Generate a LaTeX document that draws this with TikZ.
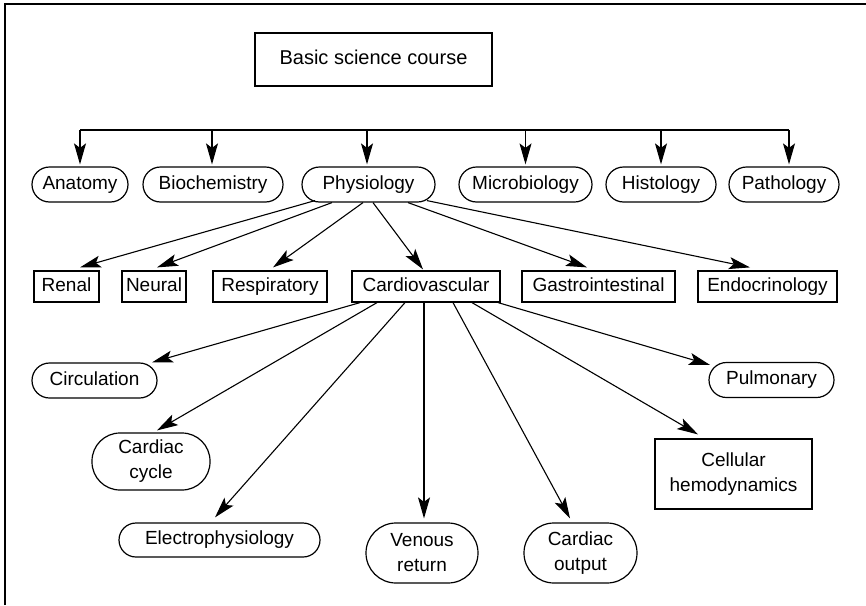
\documentclass[tikz,border=0pt]{standalone}
\usepackage{fontspec}
\setmainfont{Liberation Sans}
\usetikzlibrary{arrows.meta}
\begin{document}
\begin{tikzpicture}[x=1pt,y=-1pt,
  every node/.style={font=\fontsize{19}{25}\selectfont, inner sep=0pt, align=center, line width=1.2pt},
  one/.style={text height=13.5pt, text depth=4pt},
  pill/.style={draw, one, rounded corners=17.5pt, minimum height=35pt},
  tallpill/.style={draw, rounded corners=29pt, minimum height=58pt},
  boxn/.style={draw, one, minimum height=31pt},
  arr/.style={-{Stealth[length=21pt,width=12pt,inset=4.5pt]}, line width=1.1pt},
  plain/.style={line width=1.1pt},
]
\useasboundingbox (0,0) rectangle (866,605);
\draw[line width=1.2pt] (5,605) -- (5,4) -- (866,4);

% title
\node[draw, one, minimum width=237pt, minimum height=53pt, font=\fontsize{20}{25}\selectfont] (title) at (373.5,59.5) {Basic science course};

% row 1
\node[pill, minimum width=96pt]  (anat)  at (80,184.5)    {Anatomy};
\node[pill, minimum width=140pt] (bioc)  at (213,184.5)   {Biochemistry};
\node[pill, minimum width=133pt] (phys)  at (368.5,184.5) {Physiology};
\node[pill, minimum width=133pt] (micro) at (525.5,184.5) {Microbiology};
\node[pill, minimum width=110pt] (histo) at (661,184.5)   {Histology};
\node[pill, minimum width=110pt] (patho) at (784,184.5)   {Pathology};

% row 2
\node[boxn, minimum width=65pt]  (renal)  at (66.5,286.5)  {Renal};
\node[boxn, minimum width=64pt]  (neural) at (154,286.5)   {Neural};
\node[boxn, minimum width=114pt] (resp)   at (270,286.5)   {Respiratory};
\node[boxn, minimum width=148pt] (cardio) at (426,286.5)   {Cardiovascular};
\node[boxn, minimum width=153pt] (gi)     at (598.5,286.5) {Gastrointestinal};
\node[boxn, minimum width=139pt] (endo)   at (767.5,286.5) {Endocrinology};

% row 3
\node[pill, minimum width=125pt] (circ)    at (94.5,380.5) {Circulation};
\node[pill, minimum width=125pt] (pulm)    at (771.5,380)  {Pulmonary};
\node[tallpill, minimum width=118pt, minimum height=57pt, rounded corners=28pt] (cycle) at (151,461.5) {Cardiac\\cycle};
\node[pill, minimum width=201pt, minimum height=34pt, rounded corners=17pt] (electro) at (219.5,540) {Electrophysiology};
\node[tallpill, minimum width=112pt, minimum height=60pt, rounded corners=30pt] (venous) at (422,553) {Venous\\return};
\node[tallpill, minimum width=113pt, minimum height=60pt, rounded corners=30pt] (output) at (580.5,553) {Cardiac\\output};
\node[draw, minimum width=157pt, minimum height=70pt] (cell) at (733.5,474) {Cellular\\hemodynamics};

% bus to row 1
\coordinate (bus) at (0,130);
\draw[plain] (anat.north |- bus) -- ([xshift=5pt]patho.north |- bus);
\draw[arr] (anat.north |- bus) -- ([yshift=2pt]anat.north);
\draw[arr] ([xshift=-1pt]bioc.north |- bus) -- ([xshift=-1pt,yshift=2pt]bioc.north);
\draw[arr] ([xshift=-1.5pt]phys.north |- bus) -- ([xshift=-1.5pt,yshift=2pt]phys.north);
\draw[arr] (micro.north |- bus) -- ([yshift=2pt]micro.north);
\draw[arr] (histo.north |- bus) -- ([yshift=2pt]histo.north);
\draw[arr] ([xshift=5pt]patho.north |- bus) -- ([xshift=5pt,yshift=2pt]patho.north);

% physiology to row 2
\draw[arr] ([xshift=-53.5pt,yshift=2pt]phys.south) -- ([xshift=13.5pt,yshift=3pt]renal.north);
\draw[arr] ([xshift=-36.5pt]phys.south) -- ([xshift=3pt,yshift=3pt]neural.north);
\draw[arr] ([xshift=-5.5pt]phys.south) -- ([xshift=3pt,yshift=3pt]resp.north);
\draw[arr] ([xshift=4.5pt]phys.south) -- ([xshift=-3pt,yshift=1pt]cardio.north);
\draw[arr] ([xshift=39.5pt]phys.south) -- ([xshift=-11.5pt,yshift=3pt]gi.north);
\draw[arr] ([xshift=58.5pt,yshift=2pt]phys.south) -- ([xshift=-17.5pt,yshift=3pt]endo.north);

% cardiovascular to row 3
\draw[arr] ([xshift=-66pt]cardio.south) -- ([xshift=57.5pt]circ.north);
\draw[arr] ([xshift=-49pt]cardio.south) -- ([xshift=6pt,yshift=2pt]cycle.north);
\draw[arr] ([xshift=-21pt]cardio.south) -- ([xshift=-4.5pt,yshift=5pt]electro.north);
\draw[arr] ([xshift=-2pt]cardio.south) -- ([xshift=2pt,yshift=4pt]venous.north);
\draw[arr] ([xshift=27pt]cardio.south) -- ([xshift=-10.5pt,yshift=4pt]output.north);
\draw[arr] ([xshift=46pt]cardio.south) -- ([xshift=-35.5pt,yshift=4pt]cell.north);
\draw[arr] ([xshift=72pt]cardio.south) -- ([xshift=-61.5pt,yshift=-3pt]pulm.north);
\end{tikzpicture}
\end{document}
